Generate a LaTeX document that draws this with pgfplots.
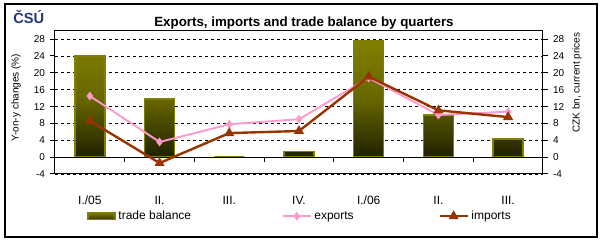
\documentclass[border=0pt]{standalone}
\usepackage{pgfplots}
\pgfplotsset{compat=1.18}
\usepackage{fontspec}
\setmainfont{Liberation Sans}
\definecolor{olivebar}{RGB}{128,128,0}
\definecolor{pinkexp}{RGB}{255,153,204}
\definecolor{brownimp}{RGB}{153,51,0}
\definecolor{logoblue}{RGB}{35,55,125}
\pgfplotsset{
  mylinelegend/.style={legend image code/.code={\draw[mark repeat=2, mark phase=2, ##1] plot coordinates {(0pt,0pt) (10.5pt,0pt) (21pt,0pt)};}},
  mybarlegend/.style={legend image code/.code={\draw[draw=olivebar, line width=1pt, top color=olivebar, bottom color=olivebar!40!black] (0pt,-2.7pt) rectangle (20.25pt,2.7pt);}},
}
\begin{document}
\begin{tikzpicture}[x=0.75pt,y=0.75pt]
\path[use as bounding box] (0,0) rectangle (604,242);
\draw[line width=1.5pt] (5,237.5) rectangle (597,5);
\node[anchor=base west, text=logoblue, font=\bfseries\fontsize{11}{11}\selectfont, inner sep=0pt] at (13,242-24) {ČSÚ};
\node[anchor=base, font=\bfseries\fontsize{10}{12}\selectfont, inner sep=0pt] at (304,242-27) {Exports, imports and trade balance by quarters};
\node[rotate=90, font=\fontsize{7.5}{9}\selectfont, inner sep=0pt] at (16,242-97.5) {Y-on-y changes (\%)};
\node[rotate=90, font=\fontsize{7.5}{9}\selectfont, inner sep=0pt] at (577,242-82.5) {CZK bn, current prices};
\begin{axis}[
  at={(41.25pt,51pt)}, anchor=south west,
  scale only axis, width=366pt, height=107.5pt,
  xmin=-0.5, xmax=6.5, ymin=-4, ymax=30,
  xtick={0,...,6}, xticklabels={I./05,II.,III.,IV.,I./06,II.,III.},
  x tick style={draw=none},
  xticklabel style={font=\fontsize{9}{10}\selectfont, yshift=-9pt},
  ytick={-4,0,...,28}, ytick pos=left, tick align=outside,
  major tick length=4pt,
  yticklabel style={font=\fontsize{7.5}{9}\selectfont},
  /pgf/number format/assume math mode=true,
  ymajorgrids, grid style={black, dash pattern=on 2.25pt off 2.25pt, line width=0.6pt},
  axis line style={line width=0.75pt},
  tick style={black, line width=0.75pt},
  legend columns=3,
  legend style={draw=none, at={(axis description cs:0.066,-0.294)}, anchor=west,
    font=\fontsize{9}{10}\selectfont, inner sep=0pt,
    /tikz/column 2/.append style={column sep=66pt},
    /tikz/column 4/.append style={column sep=61.5pt}},
]
\addplot[ybar, bar width=0.43, draw=olivebar, line width=1.1pt, top color=olivebar, bottom color=olivebar!25!black, middle color=olivebar!80!black, mybarlegend]
  coordinates {(0,24.0) (1,13.8) (2,0) (3,1.3) (4,27.6) (5,10.0) (6,4.3)};
\addlegendentry{trade balance}
\draw[black, line width=0.75pt] (axis cs:-0.5,0) -- (axis cs:6.5,0);
\pgfplotsinvokeforeach{0.5,1.5,2.5,3.5,4.5,5.5}{\draw[black, line width=0.75pt] (axis cs:#1,0) -- ([yshift=-3.75pt]axis cs:#1,0);}
\addplot[pinkexp, line width=1.4pt, mark=diamond*, mark size=2.2pt, mylinelegend]
  coordinates {(0,14.5) (1,3.6) (2,7.8) (3,9.0) (4,18.8) (5,10.0) (6,10.8)};
\addlegendentry{exports}
\addplot[brownimp, line width=1.8pt, mark=triangle*, mark size=2.6pt, mylinelegend]
  coordinates {(0,8.6) (1,-1.4) (2,5.7) (3,6.2) (4,19.1) (5,11.1) (6,9.5)};
\addlegendentry{imports}
\end{axis}
\begin{axis}[
  at={(41.25pt,51pt)}, anchor=south west,
  scale only axis, width=366pt, height=107.5pt,
  xmin=-0.5, xmax=6.5, ymin=-4, ymax=30,
  axis x line=none, axis y line*=right,
  ytick={-4,0,...,28}, tick align=outside, major tick length=4pt,
  yticklabel style={font=\fontsize{7.5}{9}\selectfont},
  /pgf/number format/assume math mode=true,
  axis line style={line width=0.75pt},
  tick style={black, line width=0.75pt},
]
\end{axis}
\end{tikzpicture}
\end{document}
